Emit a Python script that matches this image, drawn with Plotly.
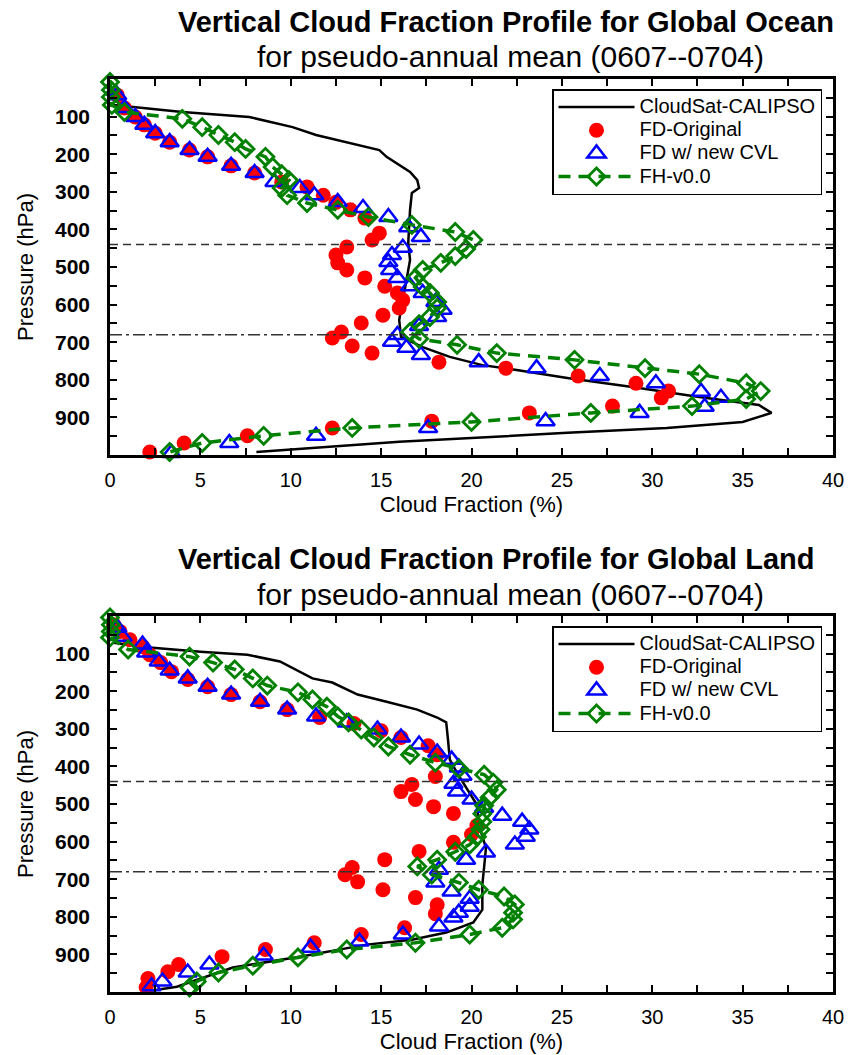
import plotly.graph_objects as go

# ---------------- DATA ----------------
# Global Ocean
ocean_obs_cf = [0.2, 4.0, 7.7, 10.1, 11.4, 13.3, 14.9, 15.3, 16.6, 17.0, 17.1, 16.7, 16.6, 16.5, 16.6, 16.4,
                16.2, 16.0, 16.1, 17.3, 18.8, 20.6, 22.5, 25.3, 28.9, 32.6, 35.9, 36.6, 35.0, 30.8, 25.3, 19.7,
                16.0, 8.1]
ocean_obs_p = [69, 88, 101, 128, 149, 170, 189, 207, 247, 269, 290, 303, 348, 436, 481, 535,
               588, 641, 686, 713, 739, 761, 774, 795, 819, 846, 867, 888, 912, 928, 941, 955,
               965, 992]

ocean_fd_cf = [0.4, 0.8, 1.4, 1.9, 2.5, 3.3, 4.4, 5.4, 6.7, 8.0, 9.5, 10.9, 11.8, 12.5, 13.3, 14.1, 14.9,
               14.5, 13.1, 12.5, 12.6, 13.1, 14.1, 15.2, 15.9, 16.2, 16.0, 15.1, 13.9, 12.8, 12.3, 13.4,
               14.5, 18.2, 21.9, 25.9, 29.1, 30.9, 30.5, 27.8, 23.2, 17.8, 12.3, 7.6, 4.1, 2.2]
ocean_fd_p = [43, 77, 101, 122, 144, 168, 189, 207, 231, 250, 274, 287, 309, 328, 348, 370, 410,
              428, 447, 468, 489, 508, 529, 551, 569, 588, 609, 628, 649, 673, 689, 710,
              729, 753, 769, 790, 809, 830, 848, 870, 888, 910, 928, 949, 968, 992]

ocean_cvl_cf = [0.4, 0.8, 1.4, 1.9, 2.5, 3.3, 4.4, 5.4, 6.7, 8.0, 9.1, 10.5, 11.3, 12.6, 14.0, 15.4, 16.5,
                17.2, 16.2, 15.6, 15.4, 15.5, 15.9, 16.6, 17.3, 18.0, 18.4, 18.1, 17.1, 15.9, 15.6, 16.4,
                17.2, 20.4, 23.6, 27.1, 30.2, 32.7, 33.8, 32.9, 29.3, 24.1, 17.6, 11.4, 6.6, 3.4]
ocean_cvl_p = [43, 77, 101, 122, 144, 168, 189, 207, 231, 250, 274, 290, 309, 327, 343, 367, 394,
               420, 449, 468, 487, 508, 529, 551, 569, 593, 614, 633, 657, 681, 699, 715,
               734, 753, 769, 790, 809, 832, 848, 872, 888, 910, 928, 949, 968, 995]

ocean_fh_cf = [0.0, 0.05, 0.05, 0.1, 0.8, 4.0, 5.1, 6.0, 6.9, 7.5, 8.6, 9.0, 9.5, 9.9, 9.5, 9.8, 10.9,
               12.6, 14.3, 16.7, 19.1, 20.1, 19.7, 19.1, 18.3, 17.3, 16.9, 17.3, 17.7, 18.1, 18.1, 17.7,
               17.1, 16.6, 17.1, 19.2, 21.4, 25.7, 29.6, 32.6, 35.2, 36.0, 35.2, 32.2, 26.6, 20.0, 13.4,
               8.5, 5.1, 3.3]
ocean_fh_p = [8, 29, 48, 69, 88, 106, 128, 149, 168, 186, 207, 234, 253, 269, 290, 309, 330,
              348, 367, 388, 407, 428, 452, 471, 489, 508, 529, 553, 569, 593, 609, 633,
              652, 673, 691, 707, 729, 747, 769, 785, 809, 830, 851, 870, 888, 912, 928,
              949, 968, 992]

# Global Land
land_obs_cf = [0.2, 2.2, 5.0, 7.6, 9.4, 10.5, 11.2, 12.3, 13.7, 15.3, 17.0, 18.1, 18.6, 18.7, 18.8, 19.2,
               19.9, 20.3, 20.4, 20.8, 20.7, 20.6, 20.6, 20.1, 18.6, 16.7, 14.2, 10.5, 6.8, 3.7, 1.8]
land_obs_p = [71, 84, 95, 103, 121, 148, 166, 177, 209, 228, 249, 270, 283, 329, 382, 417,
              470, 502, 555, 617, 667, 714, 781, 815, 842, 861, 874, 906, 935, 986, 1000]

land_fd_cf = [0.2, 0.55, 1.1, 1.8, 2.2, 2.8, 3.4, 4.3, 5.4, 6.7, 8.3, 9.8, 11.6, 13.5, 15.0, 16.1, 17.6,
              18.1, 18.0, 16.7, 16.1, 16.9, 17.9, 19.0, 20.3, 20.0, 19.0, 17.1, 15.2, 13.4, 13.0, 13.7,
              15.1, 16.9, 18.1, 18.0, 16.3, 13.9, 11.3, 8.6, 6.2, 3.8, 3.2, 2.1, 2.0]
land_fd_p = [23, 41, 63, 81, 103, 124, 148, 169, 188, 209, 228, 249, 270, 286, 305, 323, 345,
             369, 427, 448, 467, 488, 507, 525, 557, 581, 602, 626, 648, 669, 688, 707,
             728, 749, 768, 792, 829, 847, 869, 887, 906, 927, 946, 964, 988]

land_cvl_cf = [0.4, 0.7, 1.8, 2.0, 2.7, 3.3, 4.3, 5.4, 6.7, 8.3, 9.8, 11.4, 13.1, 14.8, 16.1, 17.1, 18.1,
               18.9, 19.3, 19.5, 19.0, 19.2, 20.0, 20.7, 21.7, 22.8, 23.2, 23.0, 22.4, 20.8, 19.7, 18.2,
               18.0, 18.9, 19.9, 19.9, 19.3, 19.0, 18.2, 16.2, 13.8, 11.1, 8.5, 5.5, 4.3, 2.9, 2.3]
land_cvl_p = [31, 55, 76, 97, 121, 145, 166, 188, 209, 228, 249, 267, 283, 302, 323, 342, 363,
              382, 403, 425, 446, 467, 488, 510, 531, 547, 568, 587, 608, 629, 648, 675,
              709, 733, 752, 773, 789, 802, 826, 847, 866, 882, 903, 927, 948, 972, 985]

land_fh_cf = [0.0, 0.05, 0.05, 0.0, 1.0, 4.4, 5.7, 6.9, 7.9, 8.7, 10.4, 11.2, 12.0, 12.6, 13.2, 13.9,
              14.6, 15.4, 16.6, 18.0, 19.3, 20.7, 21.2, 21.4, 21.0, 20.7, 20.6, 20.6, 20.5, 20.3, 19.9,
              19.1, 18.1, 17.0, 17.8, 19.3, 20.4, 21.8, 22.4, 22.3, 22.3, 21.7, 19.9, 16.9, 13.1, 10.4,
              7.9, 6.0, 4.8, 4.4]
land_fh_p = [4, 23, 41, 57, 89, 108, 124, 142, 166, 185, 203, 222, 241, 267, 283, 302,
             323, 347, 369, 390, 406, 422, 443, 462, 483, 504, 526, 547, 568, 587, 608,
             627, 648, 666, 688, 709, 728, 746, 767, 789, 807, 829, 847, 869, 887, 908,
             930, 948, 972, 988]

series_names = ["CloudSat-CALIPSO", "FD-Original", "FD w/ new CVL", "FH-v0.0"]
panel_titles = ["Vertical Cloud Fraction Profile for Global Ocean",
                "Vertical Cloud Fraction Profile for Global Land"]
subtitle = "for pseudo-annual mean (0607--0704)"
x_ticks = [0, 5, 10, 15, 20, 25, 30, 35, 40]
y_ticks = [100, 200, 300, 400, 500, 600, 700, 800, 900]
dashed_level = 440
dashdot_level = 680

# ---------------- FIGURE ----------------
FONT = "Liberation Sans, Arial, Helvetica, sans-serif"
RED = "rgb(255,0,0)"
BLUE = "rgb(0,0,255)"
GREEN = "rgb(0,128,0)"
LEG_TEXT_PX = 20


def leg_name(s):
    # larger legend text while keeping compact row spacing
    return f"<span style='font-size:{LEG_TEXT_PX}px'>{s}</span>"


fig = go.Figure()


def add_panel(obs, fd, cvl, fh, xa, ya, leg):
    common = dict(xaxis=xa, yaxis=ya, legend=leg, cliponaxis=False)
    fig.add_trace(go.Scatter(x=obs[0], y=obs[1], mode="lines", name=leg_name(series_names[0]),
                             line=dict(color="black", width=2.5), **common))
    fig.add_trace(go.Scatter(x=fd[0], y=fd[1], mode="markers", name=leg_name(series_names[1]),
                             marker=dict(symbol="circle", size=15, color=RED, line=dict(width=0)),
                             **common))
    fig.add_trace(go.Scatter(x=cvl[0], y=cvl[1], mode="markers", name=leg_name(series_names[2]),
                             marker=dict(symbol="triangle-up-open", size=16, color=BLUE,
                                         line=dict(width=2.5, color=BLUE)), **common))
    fig.add_trace(go.Scatter(x=fh[0], y=fh[1], mode="lines+markers", name=leg_name(series_names[3]),
                             line=dict(color=GREEN, width=3.5, dash="12px,8px"),
                             marker=dict(symbol="diamond-open", size=13, color=GREEN,
                                         line=dict(width=2.8, color=GREEN)), **common))


add_panel((ocean_obs_cf, ocean_obs_p), (ocean_fd_cf, ocean_fd_p), (ocean_cvl_cf, ocean_cvl_p),
          (ocean_fh_cf, ocean_fh_p), "x", "y", "legend")
add_panel((land_obs_cf, land_obs_p), (land_fd_cf, land_fd_p), (land_cvl_cf, land_cvl_p),
          (land_fh_cf, land_fh_p), "x2", "y2", "legend2")

W, H = 851, 1055
L, R, T, B = 110, 18, 79, 63
plot_h = H - T - B  # 913


def py2paper(py):
    return (H - B - py) / plot_h


def px2paper(px):
    return (px - L) / (W - L - R)


top_dom = [py2paper(455), 1.0]
bot_dom = [0.0, py2paper(616)]

xaxis_common = dict(range=[0, 40], tickmode="array", tickvals=x_ticks,
                    ticks="inside", ticklen=7, tickwidth=1.5, tickcolor="black",
                    minor=dict(tickmode="linear", tick0=0, dtick=2.5, ticks="inside",
                               ticklen=7, tickwidth=1.5, tickcolor="black"),
                    showline=True, linewidth=2.5, linecolor="black", mirror="allticks",
                    showgrid=False, zeroline=False, ticklabelstandoff=5,
                    tickfont=dict(family=FONT, size=20, color="black"),
                    title=dict(text="Cloud Fraction (%)", standoff=7,
                               font=dict(family=FONT, size=22, color="black")))
yaxis_common = dict(range=[1000, 0], tickmode="array", tickvals=y_ticks,
                    ticks="inside", ticklen=7, tickwidth=1.5, tickcolor="black",
                    minor=dict(tickmode="linear", tick0=0, dtick=50, ticks="inside",
                               ticklen=7, tickwidth=1.5, tickcolor="black"),
                    showline=True, linewidth=2.5, linecolor="black", mirror="allticks",
                    showgrid=False, zeroline=False, ticklabelstandoff=13,
                    tickfont=dict(family=FONT, size=21, color="black", weight="bold"),
                    title=dict(text="Pressure (hPa)", standoff=16,
                               font=dict(family=FONT, size=22, color="black")))

fig.update_layout(
    width=W, height=H,
    margin=dict(l=L, r=R, t=T, b=B, autoexpand=False),
    paper_bgcolor="white", plot_bgcolor="white",
    font=dict(family=FONT, color="black"),
    xaxis=dict(domain=[0, 1], anchor="y", **xaxis_common),
    yaxis=dict(domain=top_dom, anchor="x", **yaxis_common),
    xaxis2=dict(domain=[0, 1], anchor="y2", **xaxis_common),
    yaxis2=dict(domain=bot_dom, anchor="x2", **yaxis_common),
)

legend_common = dict(xanchor="right", yanchor="top", bgcolor="white", bordercolor="black",
                     borderwidth=1.5, font=dict(family=FONT, size=15.5, color="black"),
                     tracegroupgap=0, itemwidth=76)
fig.update_layout(
    legend=dict(x=px2paper(822), y=py2paper(89), **legend_common),
    legend2=dict(x=px2paper(822), y=py2paper(626), **legend_common),
)

# reference level lines
shapes = []
for ya in ["y", "y2"]:
    xa = "x" if ya == "y" else "x2"
    shapes.append(dict(type="line", xref=f"{xa} domain", yref=ya, x0=0, x1=1,
                       y0=dashed_level, y1=dashed_level,
                       line=dict(color="rgb(50,50,50)", width=1.6, dash="8px,5px")))
    shapes.append(dict(type="line", xref=f"{xa} domain", yref=ya, x0=0, x1=1,
                       y0=dashdot_level, y1=dashdot_level,
                       line=dict(color="rgb(50,50,50)", width=1.6, dash="12px,4px,3px,4px")))
fig.update_layout(shapes=shapes)

# titles
ann = []
for title, ty, sy in [(panel_titles[0], 22, 57), (panel_titles[1], 559, 594)]:
    ann.append(dict(text=f"<b>{title}</b>", xref="paper", yref="paper", x=px2paper(176),
                    y=py2paper(ty), xanchor="left", yanchor="middle", showarrow=False,
                    font=dict(family=FONT, size=29, color="black")))
    ann.append(dict(text=subtitle, xref="paper", yref="paper", x=px2paper(510),
                    y=py2paper(sy), xanchor="center", yanchor="middle", showarrow=False,
                    font=dict(family=FONT, size=30, color="black")))
fig.update_layout(annotations=ann)

fig.write_html("out.html", config={"displayModeBar": False},
               post_script="document.body.style.margin='0px';")
